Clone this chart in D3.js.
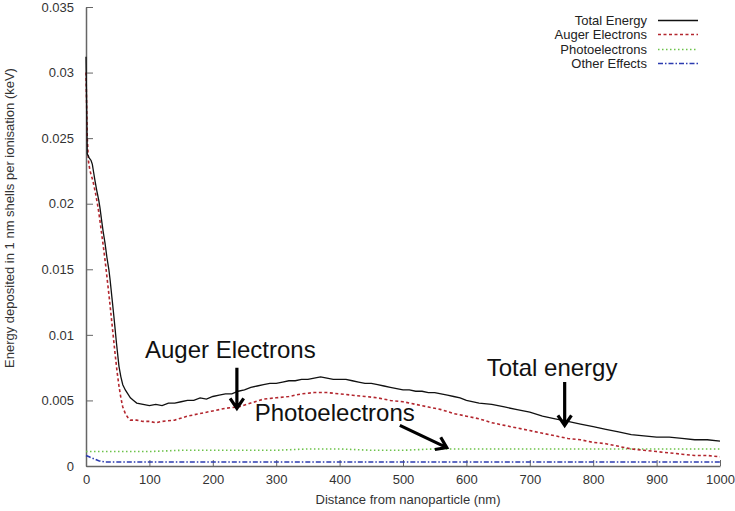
<!DOCTYPE html>
<html>
<head>
<meta charset="utf-8">
<script src="https://cdn.jsdelivr.net/npm/d3@7"></script>
<style>
  body { margin: 0; background: #fff; }
  svg { display: block; }
</style>
</head>
<body>
<div id="chart"></div>
<script>
// distances (nm) and energies (keV)
var totalX = [0, 2, 5, 8, 10, 12, 14, 17, 20, 22, 25, 27, 30, 33, 36, 38, 41, 44, 46, 48, 50, 52, 55, 58, 62, 66, 70, 75, 80, 90,
    100, 110, 120, 130, 140, 150, 160, 170, 180, 190, 200, 210, 220, 230, 240, 250, 260, 270, 280, 290, 300,
    310, 320, 330, 340, 350, 360, 370, 380, 390, 400, 410, 420, 430, 440, 450, 460, 470, 480, 490, 500,
    510, 520, 530, 540, 550, 560, 570, 580, 590, 600, 620, 640, 660, 680, 700, 720, 740, 760, 780, 800,
    820, 840, 860, 880, 900, 920, 940, 960, 980, 1000];
var totalY = [0.0312, 0.0238, 0.0235, 0.0233, 0.0230, 0.0224, 0.0218, 0.0210, 0.0203, 0.0197, 0.0186, 0.0179, 0.0170, 0.0159, 0.0150, 0.0142, 0.0128, 0.0114, 0.0104, 0.0094, 0.0085, 0.0076, 0.0068, 0.0062, 0.0058, 0.0055, 0.0052, 0.0050, 0.0048, 0.0047,
    0.0046, 0.0047, 0.0046, 0.0048, 0.0048, 0.0049, 0.0050, 0.0050, 0.0052, 0.0051, 0.0053, 0.0054, 0.0055, 0.0055, 0.0057, 0.0058, 0.0060, 0.0061, 0.0062, 0.0063, 0.0063,
    0.0064, 0.0065, 0.0065, 0.0066, 0.0066, 0.0067, 0.0068, 0.0067, 0.0066, 0.0066, 0.0066, 0.0065, 0.0064, 0.0063, 0.0063, 0.0062, 0.0061, 0.0060, 0.0059, 0.0058,
    0.0058, 0.0057, 0.0057, 0.0056, 0.0056, 0.0055, 0.0054, 0.0053, 0.0052, 0.0050, 0.0048, 0.0047, 0.0045, 0.0043, 0.0041, 0.0038, 0.0036, 0.0034, 0.0032, 0.0030,
    0.0028, 0.0026, 0.0024, 0.0023, 0.0022, 0.0022, 0.0021, 0.0020, 0.0020, 0.0019];

var augerX = [0, 2, 4, 6, 8, 10, 12, 15, 18, 20, 22, 25, 28, 31, 34, 37, 40, 43, 46, 49, 52, 55, 58, 62, 66, 70, 80, 90,
    100, 110, 120, 140, 160, 180, 200, 220, 240, 260, 280, 300, 320, 340, 360, 380, 400, 420, 440, 460, 480, 500,
    520, 540, 560, 580, 600, 620, 640, 660, 680, 700, 720, 740, 760, 780, 800, 820, 840, 860, 880, 900, 920, 940, 960, 980, 1000];
var augerY = [0.0300, 0.0250, 0.0232, 0.0226, 0.0222, 0.0219, 0.0215, 0.0208, 0.0200, 0.0194, 0.0187, 0.0176, 0.0165, 0.0153, 0.0140, 0.0127, 0.0113, 0.0099, 0.0085, 0.0072, 0.0061, 0.0052, 0.0045, 0.0040, 0.0037, 0.0035, 0.0035, 0.0034,
    0.0034, 0.0033, 0.0034, 0.0035, 0.0038, 0.0040, 0.0042, 0.0044, 0.0045, 0.0048, 0.0051, 0.0052, 0.0053, 0.0055, 0.0056, 0.0056, 0.0055, 0.0054, 0.0053, 0.0052, 0.0050, 0.0049,
    0.0047, 0.0045, 0.0043, 0.0040, 0.0038, 0.0036, 0.0033, 0.0031, 0.0029, 0.0027, 0.0025, 0.0023, 0.0021, 0.0020, 0.0018, 0.0017, 0.0015, 0.0013, 0.0012, 0.0011, 0.0010, 0.0009, 0.0008, 0.0008, 0.0007];

var photoX = [0, 50, 100, 150, 200, 250, 300, 350, 400, 450, 500, 550, 600, 650, 700, 750, 800, 850, 900, 950, 1000];
var photoY = [0.0011, 0.0011, 0.0011, 0.0012, 0.0012, 0.0012, 0.0012, 0.0013, 0.0013, 0.0012, 0.0012, 0.0013, 0.0013, 0.0013, 0.0013, 0.0013, 0.0013, 0.0013, 0.0013, 0.0013, 0.0013];

var otherX = [0, 5, 10, 20, 30, 50, 100, 200, 300, 400, 500, 600, 700, 800, 900, 1000];
var otherY = [0.0008, 0.0007, 0.0006, 0.0004, 0.0003, 0.0003, 0.0003, 0.0003, 0.0003, 0.0003, 0.0003, 0.0003, 0.0003, 0.0003, 0.0003, 0.0003];

var seriesNames = ["Total Energy", "Auger Electrons", "Photoelectrons", "Other Effects"];
var xTicks = [0, 100, 200, 300, 400, 500, 600, 700, 800, 900, 1000];
var yTicks = [0, 0.005, 0.01, 0.015, 0.02, 0.025, 0.03, 0.035];

// text annotations with arrows, in data units
var noteLabels = ["Auger Electrons", "Photoelectrons", "Total energy"];
var noteTextAt = [[93, 0.0082], [266, 0.0034], [632, 0.0069]];
var noteArrowFrom = [[238, 0.0075], [495, 0.0031], [755, 0.0064]];
var noteArrowTo = [[238, 0.0044], [569, 0.0014], [755, 0.0031]];

var width = 735, height = 511;
var plotLeft = 86, plotRight = 720, plotTop = 7, plotBottom = 466;
var font = "'Liberation Sans', Arial, sans-serif";

var styles = [
    { color: "#111", dash: null, w: 1.3 },
    { color: "#b3262e", dash: "3,2.5", w: 1.6 },
    { color: "#6cc24a", dash: "1.5,2.5", w: 1.6 },
    { color: "#2b3bb0", dash: "5,2,1.5,2", w: 1.6 }
];

var svg = d3.select("#chart").append("svg")
    .attr("width", width)
    .attr("height", height)
    .style("background", "#fff");

var x = d3.scaleLinear().domain([0, 1000]).range([plotLeft, plotRight]);
var y = d3.scaleLinear().domain([0, 0.035]).range([plotBottom, plotTop]);

var line = d3.line()
    .x(function(d) { return x(d[0]); })
    .y(function(d) { return y(d[1]); });

var series = [
    d3.zip(totalX, totalY),
    d3.zip(augerX, augerY),
    d3.zip(photoX, photoY),
    d3.zip(otherX, otherY)
];

// axes, ticks pointing inward
var yAxis = svg.append("g")
    .attr("transform", "translate(" + plotLeft + ",0)")
    .call(d3.axisLeft(y).tickValues(yTicks).tickSizeInner(-7).tickSizeOuter(0).tickPadding(12)
        .tickFormat(function(d) { return String(+d.toFixed(3)); }));

var xAxis = svg.append("g")
    .attr("transform", "translate(0," + plotBottom + ")")
    .call(d3.axisBottom(x).tickValues(xTicks).tickSizeInner(-6).tickSizeOuter(0).tickPadding(9)
        .tickFormat(function(d) { return String(d); }));

[xAxis, yAxis].forEach(function(ax) {
    ax.select(".domain").attr("stroke", "#666").attr("stroke-width", 1.5);
    ax.selectAll(".tick line").attr("stroke", "#666");
    ax.selectAll(".tick text")
        .attr("fill", "#333")
        .style("font-family", font)
        .style("font-size", "13px");
});

// series lines, drawn back to front
svg.append("g").selectAll("path")
    .data(series.slice().reverse())
    .enter().append("path")
    .attr("d", line)
    .attr("fill", "none")
    .attr("stroke", function(d, i) { return styles[3 - i].color; })
    .attr("stroke-width", function(d, i) { return styles[3 - i].w; })
    .attr("stroke-dasharray", function(d, i) { return styles[3 - i].dash; });

// axis titles
svg.append("text")
    .attr("transform", "translate(14,218) rotate(-90)")
    .attr("text-anchor", "middle")
    .attr("fill", "#333")
    .style("font-family", font)
    .style("font-size", "13px")
    .text("Energy deposited in 1 nm shells per ionisation (keV)");

svg.append("text")
    .attr("x", 408)
    .attr("y", 504)
    .attr("text-anchor", "middle")
    .attr("fill", "#333")
    .style("font-family", font)
    .style("font-size", "13px")
    .text("Distance from nanoparticle (nm)");

// legend
var legendRows = [20.5, 34.5, 49.5, 63.5];
var legend = svg.append("g");
seriesNames.forEach(function(name, i) {
    legend.append("text")
        .attr("x", 647)
        .attr("y", legendRows[i] + 4.5)
        .attr("text-anchor", "end")
        .attr("fill", "#222")
        .style("font-family", font)
        .style("font-size", "13px")
        .text(name);
    legend.append("line")
        .attr("x1", 658).attr("x2", 698)
        .attr("y1", legendRows[i]).attr("y2", legendRows[i])
        .attr("stroke", styles[i].color)
        .attr("stroke-width", styles[i].w)
        .attr("stroke-dasharray", styles[i].dash);
});

// annotations
var notes = svg.append("g");
noteLabels.forEach(function(label, i) {
    notes.append("text")
        .attr("x", x(noteTextAt[i][0]))
        .attr("y", y(noteTextAt[i][1]))
        .attr("fill", "#111")
        .style("font-family", font)
        .style("font-size", "24px")
        .text(label);

    var x1 = x(noteArrowFrom[i][0]), y1 = y(noteArrowFrom[i][1]);
    var x2 = x(noteArrowTo[i][0]), y2 = y(noteArrowTo[i][1]);
    var a = Math.atan2(y2 - y1, x2 - x1);
    var hl = 12, spread = 0.6;
    var h1 = [x2 - hl * Math.cos(a - spread), y2 - hl * Math.sin(a - spread)];
    var h2 = [x2 - hl * Math.cos(a + spread), y2 - hl * Math.sin(a + spread)];
    notes.append("path")
        .attr("d", "M" + x1 + "," + y1 + "L" + x2 + "," + y2 +
            "M" + h1[0] + "," + h1[1] + "L" + x2 + "," + y2 + "L" + h2[0] + "," + h2[1])
        .attr("fill", "none")
        .attr("stroke", "#000")
        .attr("stroke-width", 3.2)
        .attr("stroke-linejoin", "miter");
});
</script>
</body>
</html>
